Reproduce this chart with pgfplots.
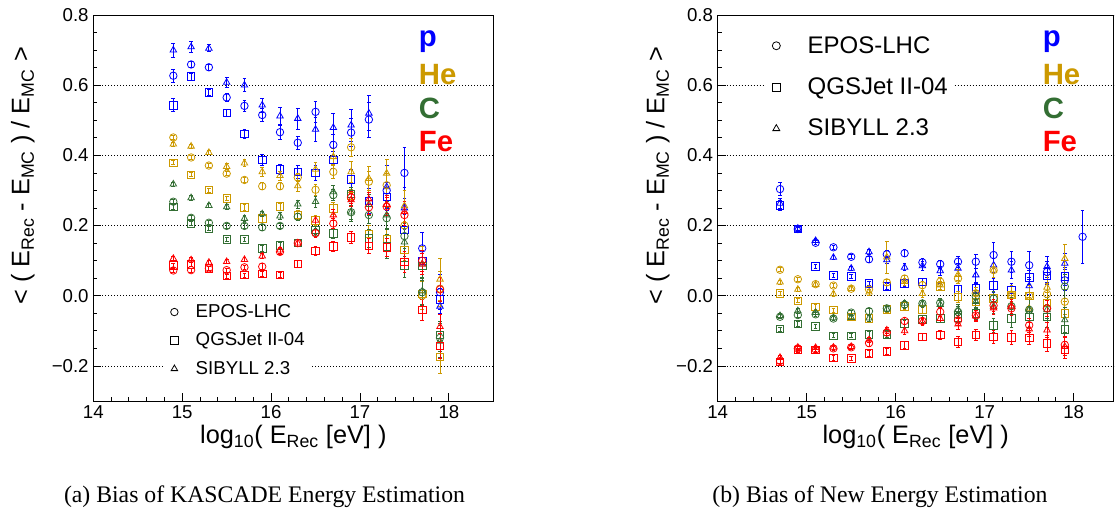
\documentclass[border=0pt]{standalone}
\usepackage{pgfplots}
\usepackage{pgfplotstable}
\pgfplotsset{compat=1.18}
\usepackage{fontspec}
\setmainfont{Liberation Serif}
\newfontfamily\axfont{Liberation Sans}
\definecolor{cp}{RGB}{0,0,255}
\definecolor{che}{RGB}{204,153,0}
\definecolor{cc}{RGB}{51,110,51}
\definecolor{cfe}{RGB}{255,0,0}

% ---------------- (a) KASCADE estimation ----------------
\pgfplotstableread{
x     E      eE     Q      eQ     S      eS
14.9  0.627  0.018  0.543  0.018  0.700  0.020
15.1  0.659  0.008  0.625  0.010  0.709  0.015
15.3  0.651  0.008  0.579  0.008  0.705  0.010
15.5  0.565  0.012  0.521  0.010  0.608  0.015
15.7  0.541  0.015  0.461  0.012  0.600  0.018
15.9  0.515  0.018  0.387  0.015  0.543  0.020
16.1  0.466  0.020  0.360  0.015  0.512  0.025
16.3  0.436  0.018  0.353  0.018  0.505  0.030
16.5  0.524  0.030  0.350  0.020  0.474  0.035
16.7  0.430  0.030  0.387  0.025  0.479  0.040
16.9  0.465  0.040  0.331  0.030  0.486  0.045
17.1  0.502  0.050  0.270  0.035  0.520  0.050
17.3  0.300  0.050  0.282  0.040  0.310  0.060
17.5  0.350  0.073  0.187  0.045  0.250  0.060
17.7  0.135  0.045  0.100  0.040  0.090  0.050
17.9  0.010  0.050  -0.010 0.040  -0.030 0.050
}\pA
\pgfplotstableread{
x     E      eE     Q      eQ     S      eS
14.9  0.451  0.006  0.379  0.006  0.432  0.006
15.1  0.394  0.006  0.345  0.006  0.426  0.006
15.3  0.371  0.006  0.301  0.006  0.408  0.006
15.5  0.348  0.006  0.277  0.006  0.368  0.008
15.7  0.330  0.008  0.252  0.008  0.378  0.010
15.9  0.312  0.010  0.220  0.010  0.353  0.012
16.1  0.312  0.010  0.254  0.010  0.342  0.012
16.3  0.337  0.012  0.230  0.012  0.313  0.015
16.5  0.302  0.015  0.215  0.015  0.360  0.020
16.7  0.353  0.020  0.249  0.018  0.396  0.025
16.9  0.423  0.025  0.284  0.020  0.353  0.030
17.1  0.325  0.030  0.176  0.025  0.334  0.035
17.3  0.315  0.035  0.160  0.030  0.349  0.040
17.5  0.200  0.040  0.130  0.030  0.256  0.045
17.7  0.000  0.040  0.005  0.035  0.090  0.050
17.9  0.020  0.050  -0.175 0.045  0.047  0.060
}\heA
\pgfplotstableread{
x     E      eE     Q      eQ     S      eS
14.9  0.268  0.006  0.253  0.006  0.318  0.006
15.1  0.222  0.006  0.206  0.006  0.279  0.006
15.3  0.208  0.006  0.191  0.006  0.257  0.006
15.5  0.199  0.006  0.160  0.006  0.253  0.006
15.7  0.199  0.006  0.160  0.006  0.220  0.008
15.9  0.195  0.008  0.135  0.008  0.233  0.008
16.1  0.199  0.008  0.144  0.008  0.227  0.010
16.3  0.225  0.010  0.150  0.010  0.261  0.012
16.5  0.180  0.012  0.187  0.012  0.268  0.015
16.7  0.287  0.015  0.178  0.015  0.296  0.018
16.9  0.238  0.020  0.290  0.020  0.238  0.025
17.1  0.230  0.025  0.163  0.025  0.260  0.030
17.3  0.221  0.030  0.140  0.035  0.230  0.040
17.5  0.170  0.035  0.087  0.035  0.153  0.040
17.7  0.010  0.035  0.085  0.035  0.013  0.040
17.9  -0.120 0.040  -0.112 0.040  -0.130 0.045
}\cA
\pgfplotstableread{
x     E      eE     Q      eQ     S      eS
14.9  0.072  0.006  0.087  0.006  0.106  0.006
15.1  0.073  0.006  0.089  0.006  0.102  0.006
15.3  0.078  0.006  0.078  0.006  0.095  0.006
15.5  0.073  0.006  0.056  0.006  0.097  0.006
15.7  0.081  0.006  0.059  0.006  0.103  0.006
15.9  0.083  0.008  0.062  0.008  0.113  0.008
16.1  0.125  0.008  0.059  0.008  0.130  0.008
16.3  0.150  0.010  0.090  0.010  0.150  0.010
16.5  0.178  0.012  0.128  0.012  0.215  0.012
16.7  0.206  0.015  0.140  0.015  0.230  0.015
16.9  0.280  0.018  0.166  0.018  0.273  0.018
17.1  0.252  0.020  0.142  0.020  0.275  0.020
17.3  0.254  0.025  0.138  0.025  0.260  0.025
17.5  0.230  0.030  0.097  0.030  0.240  0.030
17.7  0.100  0.030  -0.041 0.030  0.090  0.030
17.9  0.018  0.035  -0.143 0.035  -0.088 0.035
}\feA

% ---------------- (b) New estimation ----------------
\pgfplotstableread{
x     E      eE     Q      eQ     S      eS
14.7  0.304  0.018  0.258  0.015  0.263  0.015
14.9  0.190  0.006  0.190  0.006  0.192  0.006
15.1  0.151  0.006  0.083  0.006  0.157  0.006
15.3  0.138  0.006  0.058  0.006  0.109  0.006
15.5  0.111  0.006  0.055  0.006  0.078  0.006
15.7  0.104  0.008  0.035  0.006  0.125  0.008
15.9  0.118  0.010  0.027  0.008  0.102  0.010
16.1  0.121  0.010  0.035  0.008  0.081  0.010
16.3  0.095  0.012  0.040  0.010  0.085  0.012
16.5  0.090  0.012  0.026  0.010  0.071  0.012
16.7  0.097  0.015  0.018  0.012  0.078  0.015
16.9  0.097  0.020  0.021  0.015  0.059  0.020
17.1  0.116  0.037  0.030  0.020  0.087  0.020
17.3  0.097  0.030  0.016  0.020  0.073  0.025
17.5  0.087  0.040  0.052  0.020  0.028  0.025
17.7  0.068  0.030  0.056  0.025  0.083  0.030
17.9  0.044  0.030  0.055  0.025  0.092  0.030
18.1  0.168  0.075  nan    nan    nan    nan
}\pB
\pgfplotstableread{
x     E      eE     Q      eQ     S      eS
14.7  0.074  0.006  0.006  0.006  0.039  0.006
14.9  0.047  0.006  -0.014 0.006  0.018  0.006
15.1  0.033  0.006  -0.032 0.006  0.032  0.006
15.3  0.029  0.006  -0.041 0.006  0.005  0.006
15.5  0.020  0.006  -0.060 0.006  0.020  0.006
15.7  0.018  0.008  -0.065 0.008  0.010  0.008
15.9  0.038  0.008  -0.039 0.008  0.110  0.045
16.1  0.049  0.010  -0.030 0.010  0.040  0.010
16.3  0.030  0.010  -0.039 0.010  0.006  0.010
16.5  0.040  0.012  0.026  0.012  0.030  0.012
16.7  0.049  0.015  -0.003 0.015  0.060  0.015
16.9  0.007  0.018  -0.017 0.018  0.007  0.018
17.1  0.073  0.020  -0.008 0.020  0.073  0.020
17.3  0.002  0.025  0.002  0.025  0.005  0.025
17.5  0.000  0.030  0.000  0.030  -0.036 0.030
17.7  0.005  0.030  -0.020 0.030  0.024  0.035
17.9  -0.017 0.035  -0.050 0.035  0.106  0.040
}\heB
\pgfplotstableread{
x     E      eE     Q      eQ     S      eS
14.7  -0.060 0.006  -0.095 0.006  -0.057 0.006
14.9  -0.055 0.006  -0.080 0.006  -0.043 0.006
15.1  -0.053 0.006  -0.088 0.006  -0.048 0.006
15.3  -0.065 0.006  -0.114 0.006  -0.063 0.006
15.5  -0.048 0.006  -0.114 0.006  -0.062 0.006
15.7  -0.044 0.008  -0.110 0.008  -0.064 0.008
15.9  -0.036 0.008  -0.110 0.008  -0.038 0.008
16.1  -0.025 0.010  -0.079 0.010  -0.022 0.010
16.3  -0.022 0.010  -0.067 0.010  -0.022 0.010
16.5  -0.020 0.012  -0.065 0.012  -0.025 0.012
16.7  -0.046 0.015  -0.062 0.015  -0.040 0.015
16.9  -0.002 0.018  -0.050 0.018  -0.017 0.018
17.1  -0.008 0.020  -0.084 0.020  -0.030 0.020
17.3  -0.030 0.025  -0.065 0.025  -0.030 0.025
17.5  -0.040 0.030  -0.060 0.030  -0.040 0.030
17.7  -0.036 0.030  -0.060 0.030  -0.040 0.030
17.9  0.026  0.035  -0.096 0.035  -0.069 0.035
}\cB
\pgfplotstableread{
x     E      eE     Q      eQ     S      eS
14.7  -0.186 0.006  -0.188 0.006  -0.176 0.006
14.9  -0.150 0.006  -0.155 0.006  -0.147 0.006
15.1  -0.153 0.006  -0.155 0.006  -0.148 0.006
15.3  -0.150 0.006  -0.177 0.006  -0.147 0.006
15.5  -0.147 0.006  -0.179 0.006  -0.145 0.006
15.7  -0.135 0.008  -0.164 0.008  -0.126 0.008
15.9  -0.105 0.008  -0.158 0.008  -0.098 0.008
16.1  -0.072 0.010  -0.141 0.010  -0.100 0.010
16.3  -0.072 0.010  -0.118 0.010  -0.074 0.010
16.5  -0.046 0.012  -0.112 0.012  -0.065 0.012
16.7  -0.070 0.015  -0.132 0.015  -0.081 0.015
16.9  -0.056 0.015  -0.112 0.015  -0.058 0.015
17.1  -0.028 0.018  -0.117 0.018  -0.035 0.018
17.3  -0.036 0.020  -0.119 0.020  -0.030 0.020
17.5  -0.084 0.020  -0.120 0.020  -0.095 0.020
17.7  -0.036 0.022  -0.136 0.022  -0.098 0.022
17.9  -0.140 0.025  -0.155 0.025  -0.145 0.025
}\feB

\newcommand\ser[4]{%
 \addplot[forget plot, only marks, color=#1, mark=#2, mark size=2.8pt,
   mark options={solid, line width=0.6pt, fill=none},
   error bars/.cd, y dir=both, y explicit,
   error bar style={line width=0.6pt, solid},
   error mark options={rotate=90, mark size=1.4pt, line width=0.6pt}]
   table[x=x, y=#3, y error=e#3]{#4};}
\newcommand\element[2]{%
 \ser{#1}{o}{E}{#2}\ser{#1}{square}{Q}{#2}\ser{#1}{triangle}{S}{#2}}

\pgfplotsset{
 myax/.style={
  scale only axis, height=289.5pt,
  xmin=14, ymin=-0.3, ymax=0.8,
  axis line style={line width=0.7pt},
  xtick={14,15,16,17,18}, xticklabels={14,15,16,17,18},
  ytick={-0.2,0,0.2,0.4,0.6,0.8},
  yticklabels={−0.2,0.0,0.2,0.4,0.6,0.8},
  minor x tick num=4, minor y tick num=3,
  tick align=inside, xtick pos=bottom, ytick pos=left,
  major tick length=6pt, minor tick length=3pt,
  tick style={line width=0.6pt, black},
  ymajorgrids, major grid style={black, line width=0.6pt, dash pattern=on 0.75pt off 1.5pt},
  ticklabel style={font=\axfont\fontsize{14}{16}\selectfont},
  xlabel={log\textsubscript{10}( E\textsubscript{Rec} [eV] )},
  ylabel={< ( E\textsubscript{Rec} - E\textsubscript{MC} ) / E\textsubscript{MC} >},
  every axis x label/.style={at={(axis description cs:0.5,-0.109)}, anchor=base,
     font=\axfont\fontsize{19}{22}\selectfont},
  legend cell align=left,
 }
}

\begin{document}
\begin{tikzpicture}
\path[use as bounding box] (0pt,0pt) rectangle (836.25pt,-386.25pt);

\begin{axis}[myax, width=300pt, xmax=18.5,
  at={(70pt,-300.75pt)}, anchor=south west,
  every axis y label/.style={at={(axis description cs:-0.176,0.583)}, rotate=90, anchor=center,
     font=\axfont\fontsize{19}{22}\selectfont},
  legend style={at={(axis description cs:0.173,0.157)}, anchor=west, draw=none, fill=white,
    font=\axfont\fontsize{14}{16}\selectfont, row sep=6pt},
  legend image code/.code={\draw[#1] plot coordinates {(0pt,0pt)};
     \path[draw=none, fill=none] (-5.7pt,0pt) rectangle (14pt,0.1pt);},
]
\element{cp}{\pA}
\element{che}{\heA}
\element{cc}{\cA}
\element{cfe}{\feA}
\addlegendimage{only marks, black, mark=o, mark size=2.8pt, mark options={line width=0.6pt}}
\addlegendentry{EPOS-LHC}
\addlegendimage{only marks, black, mark=square, mark size=2.8pt, mark options={line width=0.6pt}}
\addlegendentry{QGSJet II-04}
\addlegendimage{only marks, black, mark=triangle, mark size=2.8pt, mark options={line width=0.6pt}}
\addlegendentry{SIBYLL 2.3}
\node[anchor=west, text=cp,  font=\axfont\bfseries\fontsize{22}{24}\selectfont] at (rel axis cs:0.802,0.930) {p};
\node[anchor=west, text=che, font=\axfont\bfseries\fontsize{22}{24}\selectfont] at (rel axis cs:0.802,0.847) {He};
\node[anchor=west, text=cc,  font=\axfont\bfseries\fontsize{22}{24}\selectfont] at (rel axis cs:0.802,0.759) {C};
\node[anchor=west, text=cfe, font=\axfont\bfseries\fontsize{22}{24}\selectfont] at (rel axis cs:0.802,0.671) {Fe};
\end{axis}

\begin{axis}[myax, width=297pt, xmax=18.45,
  at={(538.3pt,-300.75pt)}, anchor=south west,
  every axis y label/.style={at={(axis description cs:-0.151,0.583)}, rotate=90, anchor=center,
     font=\axfont\fontsize{19}{22}\selectfont},
  legend style={at={(axis description cs:0.118,0.813)}, anchor=west, draw=none, fill=white,
    font=\axfont\fontsize{18}{20}\selectfont, row sep=13pt},
  legend image code/.code={\draw[#1] plot coordinates {(0pt,0pt)};
     \path[draw=none, fill=none] (-5.7pt,0pt) rectangle (21.5pt,0.1pt);},
]
\element{cp}{\pB}
\element{che}{\heB}
\element{cc}{\cB}
\element{cfe}{\feB}
\addlegendimage{only marks, black, mark=o, mark size=3pt, mark options={line width=0.6pt}}
\addlegendentry{EPOS-LHC}
\addlegendimage{only marks, black, mark=square, mark size=3pt, mark options={line width=0.6pt}}
\addlegendentry{QGSJet II-04}
\addlegendimage{only marks, black, mark=triangle, mark size=3pt, mark options={line width=0.6pt}}
\addlegendentry{SIBYLL 2.3}
\node[anchor=west, text=cp,  font=\axfont\bfseries\fontsize{22}{24}\selectfont] at (rel axis cs:0.809,0.930) {p};
\node[anchor=west, text=che, font=\axfont\bfseries\fontsize{22}{24}\selectfont] at (rel axis cs:0.809,0.847) {He};
\node[anchor=west, text=cc,  font=\axfont\bfseries\fontsize{22}{24}\selectfont] at (rel axis cs:0.809,0.759) {C};
\node[anchor=west, text=cfe, font=\axfont\bfseries\fontsize{22}{24}\selectfont] at (rel axis cs:0.809,0.671) {Fe};
\end{axis}

\node[font=\fontsize{17.8}{20}\selectfont] at (198.4pt,-372.75pt) {(a) Bias of KASCADE Energy Estimation};
\node[font=\fontsize{17.8}{20}\selectfont] at (660pt,-372.75pt) {(b) Bias of New Energy Estimation};
\end{tikzpicture}
\end{document}
